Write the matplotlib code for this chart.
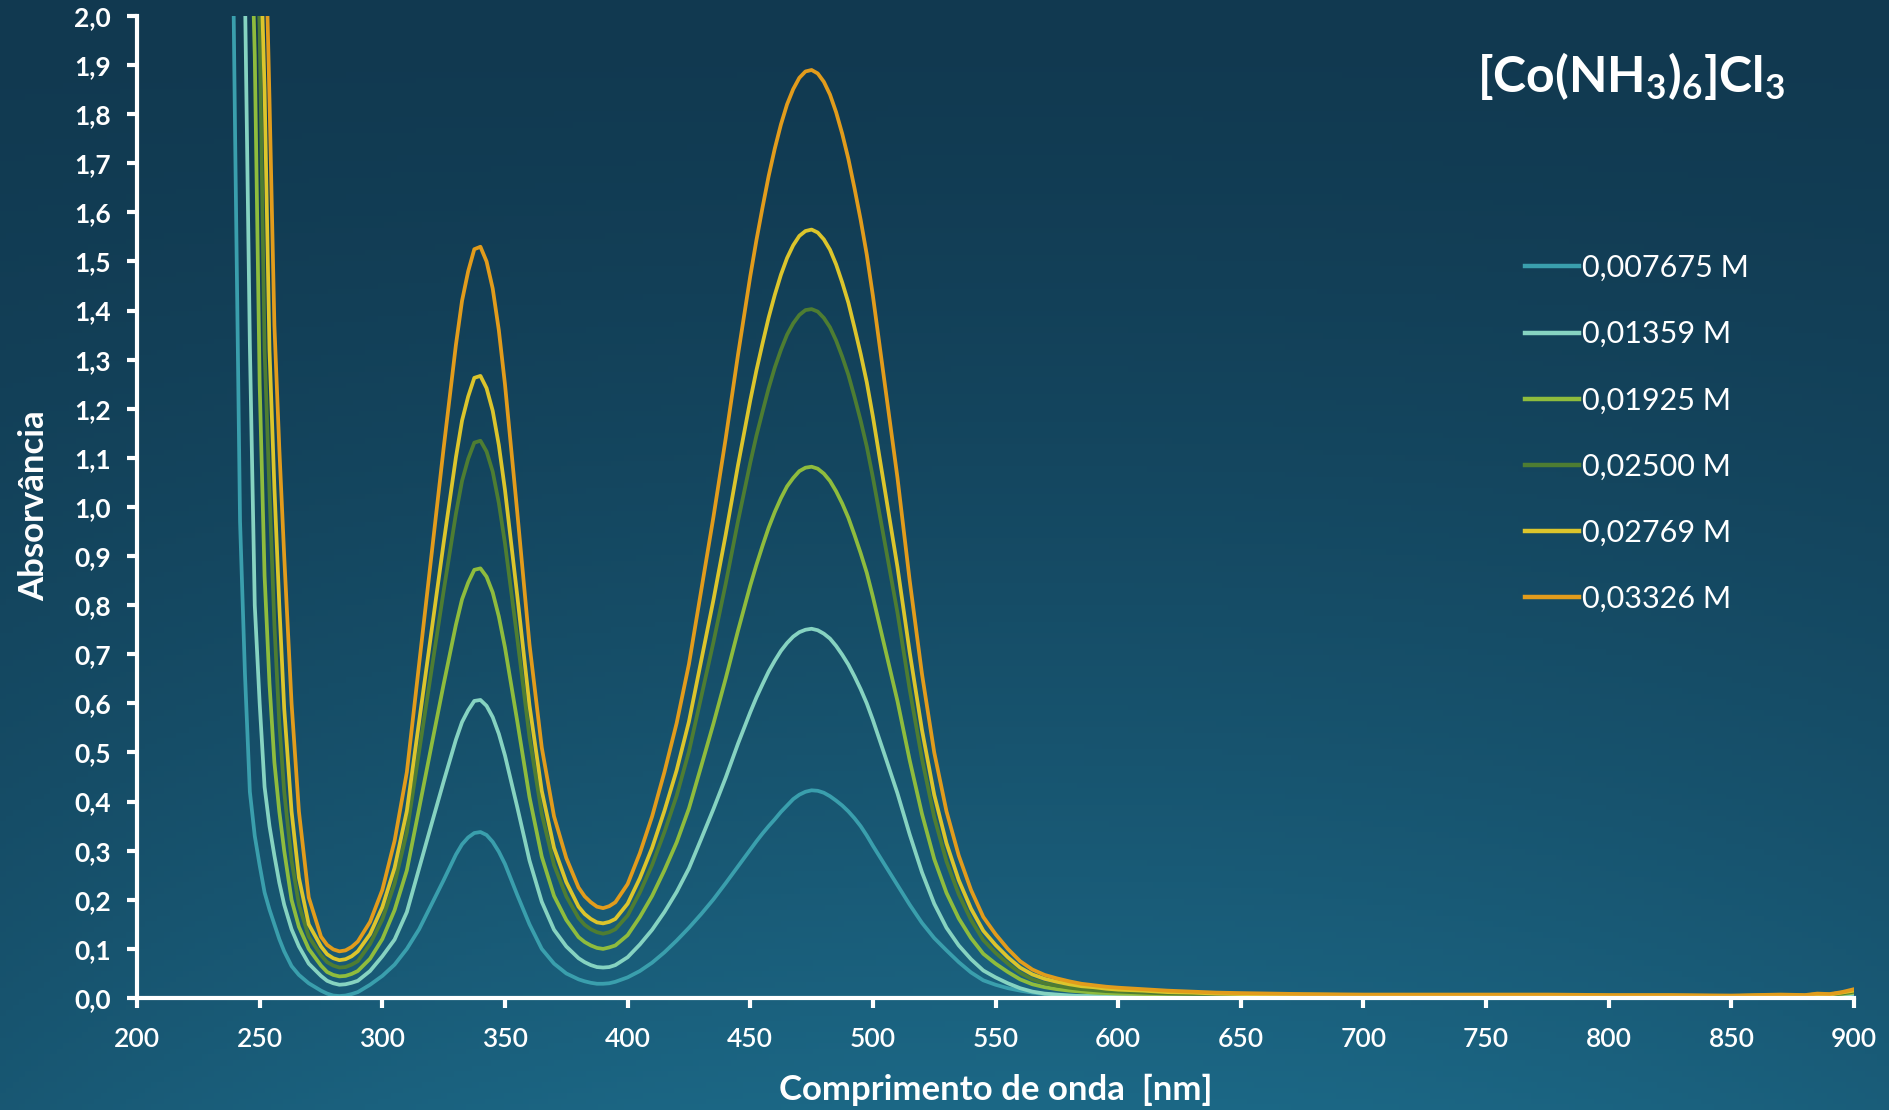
import numpy as np
import matplotlib.pyplot as plt

# wavelength grid [nm] and absorbance
wavelength = [236, 238, 240, 242, 244, 246, 248, 250, 252, 254, 256, 258, 260,
              263, 266, 270,
              275, 277.5, 280, 282.5, 285, 287.5, 290, 295, 300,
              305, 310, 315, 320, 325,
              330, 332.5, 335, 337.5, 340, 342.5, 345, 347.5, 350,
              355, 360, 365, 370, 375,
              380, 382.5, 385, 387.5, 390, 392.5, 395,
              400, 405, 410, 415, 420, 425, 430, 435, 440, 445, 450,
              452.5, 455, 457.5, 460, 462.5,
              465, 467.5, 470, 472.5, 475, 477.5, 480, 482.5, 485, 487.5,
              490, 492.5, 495, 497.5, 500,
              505, 510, 515, 520, 525, 530, 535, 540, 545, 550,
              555, 560, 565, 570, 575, 580, 585, 590, 595, 600,
              610, 620, 630, 640, 650,
              675, 700, 725, 750, 775, 800, 825, 850,
              860, 870, 880, 885, 890, 895, 900]

abs_007675 = [3.6, 2.6, 1.75, 0.97, 0.66, 0.42, 0.33, 0.27, 0.215, 0.18, 0.15, 0.12, 0.095,
              0.065, 0.047, 0.030,
              0.015, 0.009, 0.005, 0.004, 0.005, 0.008, 0.012, 0.027, 0.045,
              0.068, 0.10, 0.14, 0.19, 0.24,
              0.292, 0.313, 0.327, 0.336, 0.338, 0.332, 0.318, 0.298, 0.273,
              0.21, 0.15, 0.10, 0.07, 0.05,
              0.038, 0.034, 0.031, 0.029, 0.029, 0.030, 0.033,
              0.042, 0.055, 0.072, 0.093, 0.117, 0.143, 0.171, 0.201, 0.234, 0.268, 0.302,
              0.319, 0.335, 0.350, 0.364, 0.379,
              0.392, 0.405, 0.414, 0.420, 0.423, 0.422, 0.418, 0.411, 0.402, 0.392,
              0.38, 0.366, 0.35, 0.331, 0.31,
              0.27, 0.23, 0.19, 0.153, 0.122, 0.097, 0.073, 0.052, 0.036, 0.027,
              0.020, 0.015, 0.011, 0.008, 0.006, 0.005, 0.004, 0.003, 0.003, 0.002,
              0.002, 0.001, 0.001, 0.001, 0.001,
              0.0, 0.0, 0.0, 0.0, 0.0, 0.0, 0.0, 0.001,
              0.0, 0.002, 0.001, 0.003, 0.002, 0.004, 0.007]

abs_01359 = [4.5, 3.6, 2.9, 2.45, 2.05, 1.33, 0.80, 0.60, 0.43, 0.35, 0.29, 0.235, 0.19,
             0.14, 0.105, 0.07,
             0.045, 0.035, 0.030, 0.027, 0.028, 0.031, 0.035, 0.055, 0.085,
             0.119, 0.175, 0.264, 0.353, 0.441,
             0.526, 0.562, 0.586, 0.605, 0.607, 0.595, 0.572, 0.538, 0.494,
             0.389, 0.280, 0.196, 0.139, 0.105,
             0.081, 0.073, 0.067, 0.063, 0.062, 0.063, 0.067,
             0.083, 0.109, 0.139, 0.175, 0.216, 0.264, 0.324, 0.385, 0.449, 0.518, 0.582,
             0.612, 0.639, 0.665, 0.687, 0.707,
             0.723, 0.736, 0.745, 0.750, 0.752, 0.749, 0.742, 0.732, 0.717, 0.699,
             0.679, 0.655, 0.629, 0.600, 0.566,
             0.492, 0.417, 0.333, 0.256, 0.192, 0.143, 0.107, 0.079, 0.056, 0.042,
             0.030, 0.020, 0.013, 0.009, 0.007, 0.005, 0.004, 0.004, 0.003, 0.003,
             0.002, 0.002, 0.002, 0.001, 0.001,
             0.001, 0.001, 0.001, 0.001, 0.001, 0.001, 0.001, 0.001,
             0.001, 0.003, 0.002, 0.004, 0.003, 0.005, 0.009]

abs_01925 = [5.0, 4.2, 3.5, 3.0, 2.6, 2.3, 1.92, 1.25, 0.86, 0.64, 0.48, 0.38, 0.30,
             0.20, 0.145, 0.10,
             0.066, 0.053, 0.047, 0.044, 0.045, 0.049, 0.055, 0.08, 0.12,
             0.179, 0.260, 0.386, 0.513, 0.639,
             0.760, 0.812, 0.846, 0.872, 0.875, 0.858, 0.826, 0.777, 0.714,
             0.564, 0.409, 0.288, 0.208, 0.159,
             0.124, 0.114, 0.107, 0.102, 0.100, 0.103, 0.107,
             0.128, 0.165, 0.208, 0.260, 0.317, 0.386, 0.472, 0.559, 0.651, 0.748, 0.840,
             0.882, 0.921, 0.958, 0.990, 1.018,
             1.042, 1.059, 1.073, 1.080, 1.082, 1.078, 1.068, 1.053, 1.032, 1.007,
             0.978, 0.943, 0.906, 0.866, 0.817,
             0.711, 0.605, 0.484, 0.375, 0.283, 0.214, 0.162, 0.122, 0.090, 0.070,
             0.053, 0.038, 0.028, 0.022, 0.018, 0.015, 0.013, 0.011, 0.010, 0.009,
             0.008, 0.006, 0.005, 0.004, 0.004,
             0.003, 0.003, 0.003, 0.003, 0.003, 0.003, 0.003, 0.002,
             0.003, 0.004, 0.003, 0.006, 0.005, 0.008, 0.011]

abs_02500 = [5.2, 4.5, 3.8, 3.3, 2.9, 2.6, 2.3, 1.97, 1.32, 1.03, 0.76, 0.56, 0.42,
             0.28, 0.19, 0.125,
             0.087, 0.073, 0.066, 0.062, 0.063, 0.068, 0.075, 0.11, 0.16,
             0.233, 0.338, 0.502, 0.666, 0.829,
             0.986, 1.053, 1.098, 1.131, 1.135, 1.113, 1.072, 1.008, 0.926,
             0.733, 0.531, 0.375, 0.271, 0.207,
             0.163, 0.149, 0.140, 0.134, 0.131, 0.134, 0.140,
             0.168, 0.215, 0.271, 0.338, 0.412, 0.502, 0.613, 0.725, 0.844, 0.971, 1.090,
             1.145, 1.194, 1.242, 1.284, 1.320,
             1.351, 1.374, 1.391, 1.401, 1.403, 1.398, 1.385, 1.366, 1.339, 1.306,
             1.269, 1.224, 1.176, 1.123, 1.060,
             0.923, 0.785, 0.628, 0.487, 0.368, 0.278, 0.211, 0.159, 0.118, 0.092,
             0.070, 0.051, 0.038, 0.030, 0.025, 0.021, 0.018, 0.016, 0.014, 0.013,
             0.011, 0.009, 0.008, 0.007, 0.006,
             0.005, 0.004, 0.004, 0.004, 0.004, 0.004, 0.004, 0.003,
             0.004, 0.005, 0.004, 0.007, 0.006, 0.009, 0.013]

abs_02769 = [5.3, 4.7, 4.1, 3.6, 3.2, 2.85, 2.5, 2.2, 1.85, 1.32, 1.04, 0.80, 0.59,
             0.38, 0.245, 0.15,
             0.105, 0.089, 0.081, 0.077, 0.079, 0.085, 0.095, 0.13, 0.185,
             0.265, 0.381, 0.563, 0.745, 0.927,
             1.101, 1.176, 1.225, 1.263, 1.267, 1.242, 1.196, 1.126, 1.035,
             0.820, 0.596, 0.422, 0.306, 0.236,
             0.186, 0.171, 0.161, 0.154, 0.152, 0.155, 0.161,
             0.192, 0.244, 0.306, 0.381, 0.464, 0.563, 0.687, 0.811, 0.944, 1.085, 1.217,
             1.278, 1.333, 1.386, 1.432, 1.473,
             1.507, 1.533, 1.552, 1.562, 1.565, 1.559, 1.545, 1.524, 1.494, 1.457,
             1.416, 1.365, 1.312, 1.254, 1.184,
             1.031, 0.878, 0.704, 0.546, 0.414, 0.315, 0.240, 0.182, 0.137, 0.108,
             0.083, 0.062, 0.048, 0.039, 0.033, 0.028, 0.024, 0.022, 0.019, 0.017,
             0.015, 0.012, 0.011, 0.009, 0.008,
             0.007, 0.006, 0.006, 0.006, 0.006, 0.005, 0.005, 0.004,
             0.005, 0.006, 0.005, 0.008, 0.007, 0.011, 0.015]

abs_03326 = [5.5, 4.9, 4.3, 3.8, 3.4, 3.0, 2.7, 2.45, 2.25, 1.83, 1.37, 1.12, 0.90,
             0.60, 0.38, 0.205,
             0.125, 0.108, 0.099, 0.095, 0.097, 0.104, 0.115, 0.155, 0.22,
             0.32, 0.46, 0.68, 0.90, 1.12,
             1.33, 1.42, 1.48, 1.525, 1.53, 1.50, 1.445, 1.36, 1.25,
             0.99, 0.72, 0.51, 0.37, 0.285,
             0.225, 0.207, 0.195, 0.186, 0.183, 0.187, 0.195,
             0.232, 0.295, 0.37, 0.46, 0.56, 0.68, 0.83, 0.98, 1.14, 1.31, 1.47,
             1.543, 1.61, 1.674, 1.73, 1.779,
             1.82, 1.851, 1.874, 1.887, 1.89, 1.883, 1.866, 1.840, 1.804, 1.760,
             1.709, 1.649, 1.585, 1.514, 1.43,
             1.245, 1.06, 0.85, 0.66, 0.50, 0.38, 0.29, 0.22, 0.165, 0.13,
             0.10, 0.075, 0.058, 0.047, 0.040, 0.034, 0.029, 0.026, 0.023, 0.021,
             0.018, 0.015, 0.013, 0.011, 0.010,
             0.008, 0.007, 0.007, 0.007, 0.007, 0.006, 0.006, 0.005,
             0.006, 0.007, 0.006, 0.009, 0.008, 0.012, 0.018]

series = [abs_007675, abs_01359, abs_01925, abs_02500, abs_02769, abs_03326]
labels = ["0,007675 M", "0,01359 M", "0,01925 M", "0,02500 M", "0,02769 M", "0,03326 M"]
colors = ["#3a9fad", "#86d3c1", "#8fbc3d", "#4e7d32", "#dcc52c", "#e29c1c"]

plt.rcParams["font.family"] = ["Lato", "DejaVu Sans"]
plt.rcParams["mathtext.fontset"] = "custom"
plt.rcParams["mathtext.rm"] = "Lato:bold"

fig = plt.figure(figsize=(18.9, 11.1), dpi=100)

# gradient background
bg = fig.add_axes([0, 0, 1, 1])
bg.axis("off")
yy, xx = np.mgrid[0:1:200j, 0:1:300j]
top = np.array([17, 57, 80]) / 255
bot = np.array([28, 104, 134]) / 255
w = (yy ** 1.4) * (1 - 0.35 * ((xx - 0.55) / 0.55) ** 2)
bg.imshow(top + (bot - top) * w[..., None], aspect="auto", extent=[0, 1, 0, 1])

ax = fig.add_axes([0.0725, 0.1009, 0.9085, 0.8847])
ax.patch.set_alpha(0)
for s, c, l in zip(series, colors, labels):
    ax.plot(wavelength, s, color=c, lw=2.7, label=l, solid_joinstyle="round")

ax.set_xlim(200, 900)
ax.set_ylim(0, 2.0)
for side in ["top", "right"]:
    ax.spines[side].set_visible(False)
for side in ["left", "bottom"]:
    ax.spines[side].set_color("white")
    ax.spines[side].set_linewidth(3)

yt = np.arange(0, 2.01, 0.1)
ax.set_yticks(yt)
ax.set_yticklabels([f"{v:.1f}".replace(".", ",") for v in yt],
                   fontsize=19, fontweight="bold", color="white")
xt = np.arange(200, 901, 50)
ax.set_xticks(xt)
ax.set_xticklabels([str(v) for v in xt], fontsize=19, fontweight="semibold",
                   color="white")
ax.tick_params(axis="y", colors="white", width=3, length=7, pad=12)
ax.tick_params(axis="x", colors="white", width=3, length=7, pad=14)

fig.text(995.7 / 1890, 1 - 1090 / 1110, "Comprimento de onda  [nm]",
         fontsize=25, fontweight="bold", color="white", ha="center", va="center")
fig.text(34 / 1890, 1 - 506 / 1110, "Absorvância", rotation=90,
         fontsize=25, fontweight="bold", color="white", ha="center", va="center")
fig.text(1477 / 1890, 1 - 76 / 1110, r"$\mathrm{[Co(NH_3)_6]Cl_3}$",
         fontsize=36, color="white", ha="left", va="center")

leg = ax.legend(loc="upper left", bbox_to_anchor=(1525 / 1890, 1 - 254 / 1110),
                bbox_transform=fig.transFigure, frameon=False, fontsize=22,
                handlelength=1.76, handletextpad=0.1, labelspacing=1.25,
                borderpad=0, borderaxespad=0)
for t in leg.get_texts():
    t.set_color("white")
for h in leg.get_lines():
    h.set_linewidth(3.2)

fig.savefig("out.png", dpi=100)
